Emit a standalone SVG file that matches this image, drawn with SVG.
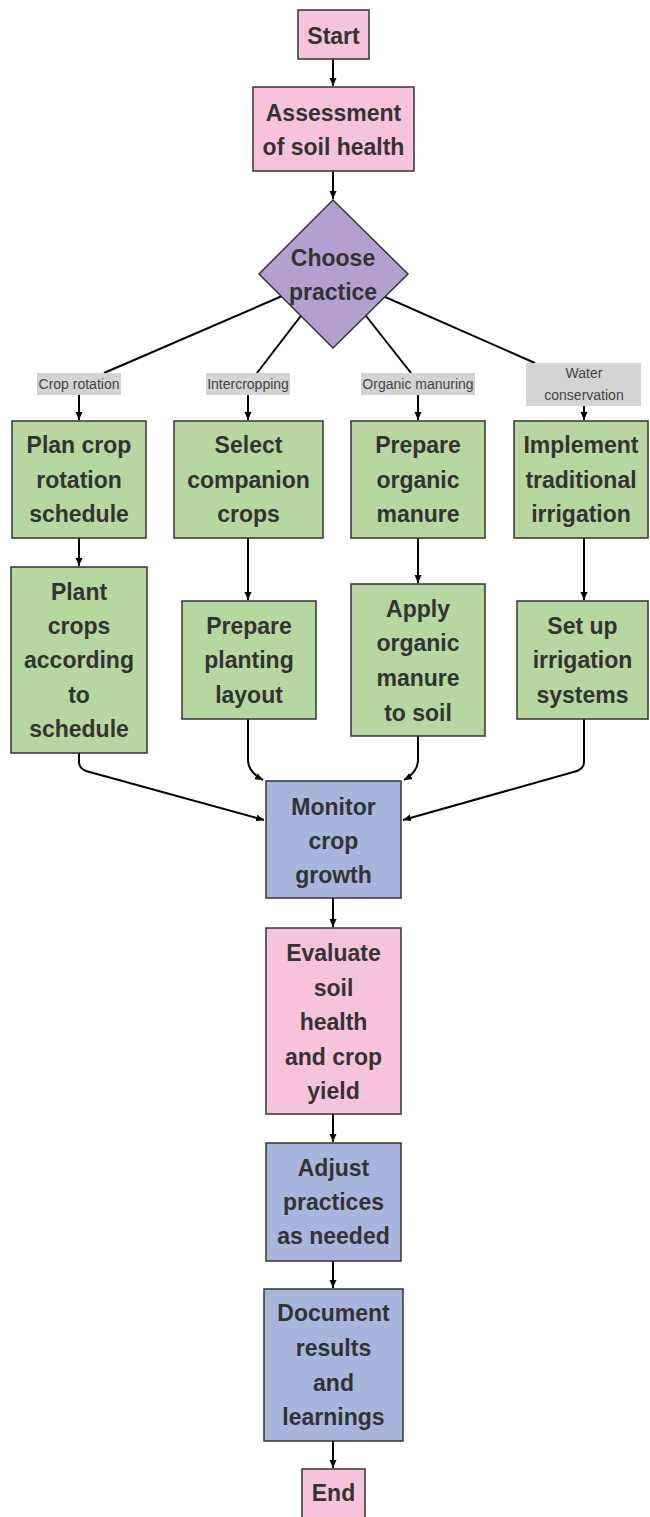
<svg xmlns="http://www.w3.org/2000/svg" width="650" height="1517" viewBox="0 0 650 1517">
<style>
.n{stroke:#333;stroke-width:1.5}
.pink{fill:#F7C3DC}
.green{fill:#B6D8A0}
.blue{fill:#A8B6DD}
.purple{fill:#B3A0D0}
.lbl{fill:#D4D4D4;stroke:none}
.t{font-family:"Liberation Sans",Arial,sans-serif;font-weight:bold;font-size:23px;fill:#333;text-anchor:middle}
.lt{font-family:"Liberation Sans",Arial,sans-serif;font-size:14px;fill:#444;text-anchor:middle}
.c{stroke:#000;stroke-width:2;fill:none}
</style>
<defs>
<marker id="ah" markerWidth="9" markerHeight="8" refX="8" refY="3.5" orient="auto" markerUnits="userSpaceOnUse">
<path d="M0,0 L8,3.5 L0,7 z" fill="#000"/>
</marker>
</defs>
<g id="connectors">
<line class="c" x1="333" y1="274" x2="104" y2="373"/>
<line class="c" x1="333" y1="274" x2="257" y2="373"/>
<line class="c" x1="333" y1="274" x2="411" y2="373"/>
<line class="c" x1="333" y1="274" x2="535" y2="363"/>
<line class="c" x1="333" y1="59" x2="333" y2="86" marker-end="url(#ah)"/>
<line class="c" x1="333" y1="171" x2="333" y2="199" marker-end="url(#ah)"/>
<line class="c" x1="79" y1="395" x2="79" y2="420" marker-end="url(#ah)"/>
<line class="c" x1="248" y1="395" x2="248" y2="420" marker-end="url(#ah)"/>
<line class="c" x1="418" y1="395" x2="418" y2="420" marker-end="url(#ah)"/>
<line class="c" x1="584" y1="406" x2="584" y2="420" marker-end="url(#ah)"/>
<line class="c" x1="79" y1="538" x2="79" y2="566" marker-end="url(#ah)"/>
<line class="c" x1="248" y1="538" x2="248" y2="600" marker-end="url(#ah)"/>
<line class="c" x1="418" y1="538" x2="418" y2="583" marker-end="url(#ah)"/>
<line class="c" x1="584" y1="538" x2="584" y2="600" marker-end="url(#ah)"/>
<path class="c" d="M79,753 V762 Q79,768 86,771 L264,820" marker-end="url(#ah)"/>
<path class="c" d="M248,719 V760 Q248,772 263,780" marker-end="url(#ah)"/>
<path class="c" d="M418,736 V760 Q418,772 404,780" marker-end="url(#ah)"/>
<path class="c" d="M584,719 V762 Q584,768 577,771 L403,820" marker-end="url(#ah)"/>
<line class="c" x1="333" y1="898" x2="333" y2="927" marker-end="url(#ah)"/>
<line class="c" x1="333" y1="1114" x2="333" y2="1142" marker-end="url(#ah)"/>
<line class="c" x1="333" y1="1261" x2="333" y2="1288" marker-end="url(#ah)"/>
<line class="c" x1="333" y1="1441" x2="333" y2="1468" marker-end="url(#ah)"/>
</g>
<g id="start"><rect class="n pink" x="298" y="10" width="71" height="49"/><text class="t" x="333.5" y="44">Start</text></g>
<g id="assess"><rect class="n pink" x="253" y="87" width="161" height="84"/><text class="t" x="333.5" y="121">Assessment</text><text class="t" x="333.5" y="155">of soil health</text></g>
<g id="choose"><polygon class="n purple" points="333,200 408,274 333,348 259,274"/><text class="t" x="333" y="266">Choose</text><text class="t" x="333" y="300">practice</text></g>
<g id="lbl1"><rect class="lbl" x="37" y="373" width="84" height="22"/><text class="lt" x="79" y="389">Crop rotation</text></g>
<g id="lbl2"><rect class="lbl" x="206" y="373" width="84" height="22"/><text class="lt" x="248" y="389">Intercropping</text></g>
<g id="lbl3"><rect class="lbl" x="361" y="373" width="114" height="22"/><text class="lt" x="418" y="389">Organic manuring</text></g>
<g id="lbl4"><rect class="lbl" x="526" y="363" width="115" height="43"/><text class="lt" x="584" y="378">Water</text><text class="lt" x="584" y="400">conservation</text></g>
<g id="plan"><rect class="n green" x="12" y="421" width="134" height="117"/><text class="t" x="79" y="453">Plan crop</text><text class="t" x="79" y="488">rotation</text><text class="t" x="79" y="522">schedule</text></g>
<g id="select"><rect class="n green" x="174" y="421" width="149" height="117"/><text class="t" x="248.5" y="453">Select</text><text class="t" x="248.5" y="488">companion</text><text class="t" x="248.5" y="522">crops</text></g>
<g id="prepman"><rect class="n green" x="351" y="421" width="134" height="117"/><text class="t" x="418" y="453">Prepare</text><text class="t" x="418" y="488">organic</text><text class="t" x="418" y="522">manure</text></g>
<g id="implement"><rect class="n green" x="514" y="421" width="134" height="117"/><text class="t" x="581" y="453">Implement</text><text class="t" x="581" y="488">traditional</text><text class="t" x="581" y="522">irrigation</text></g>
<g id="plant"><rect class="n green" x="11" y="567" width="136" height="186"/><text class="t" x="79" y="600">Plant</text><text class="t" x="79" y="634">crops</text><text class="t" x="79" y="668">according</text><text class="t" x="79" y="703">to</text><text class="t" x="79" y="737">schedule</text></g>
<g id="layout"><rect class="n green" x="182" y="601" width="134" height="118"/><text class="t" x="249" y="634">Prepare</text><text class="t" x="249" y="668">planting</text><text class="t" x="249" y="703">layout</text></g>
<g id="apply"><rect class="n green" x="351" y="584" width="134" height="152"/><text class="t" x="418" y="617">Apply</text><text class="t" x="418" y="651">organic</text><text class="t" x="418" y="686">manure</text><text class="t" x="418" y="721">to soil</text></g>
<g id="setup"><rect class="n green" x="517" y="601" width="131" height="118"/><text class="t" x="582.5" y="634">Set up</text><text class="t" x="582.5" y="668">irrigation</text><text class="t" x="582.5" y="703">systems</text></g>
<g id="monitor"><rect class="n blue" x="266" y="781" width="135" height="117"/><text class="t" x="333.5" y="815">Monitor</text><text class="t" x="333.5" y="849">crop</text><text class="t" x="333.5" y="883">growth</text></g>
<g id="evaluate"><rect class="n pink" x="266" y="928" width="135" height="186"/><text class="t" x="333.5" y="961">Evaluate</text><text class="t" x="333.5" y="996">soil</text><text class="t" x="333.5" y="1030">health</text><text class="t" x="333.5" y="1065">and crop</text><text class="t" x="333.5" y="1099">yield</text></g>
<g id="adjust"><rect class="n blue" x="266" y="1143" width="135" height="118"/><text class="t" x="333.5" y="1176">Adjust</text><text class="t" x="333.5" y="1210">practices</text><text class="t" x="333.5" y="1244">as needed</text></g>
<g id="document"><rect class="n blue" x="264" y="1289" width="139" height="152"/><text class="t" x="333.5" y="1321">Document</text><text class="t" x="333.5" y="1356">results</text><text class="t" x="333.5" y="1391">and</text><text class="t" x="333.5" y="1425">learnings</text></g>
<g id="end"><rect class="n pink" x="302" y="1469" width="63" height="50"/><text class="t" x="333.5" y="1501">End</text></g>
</svg>
